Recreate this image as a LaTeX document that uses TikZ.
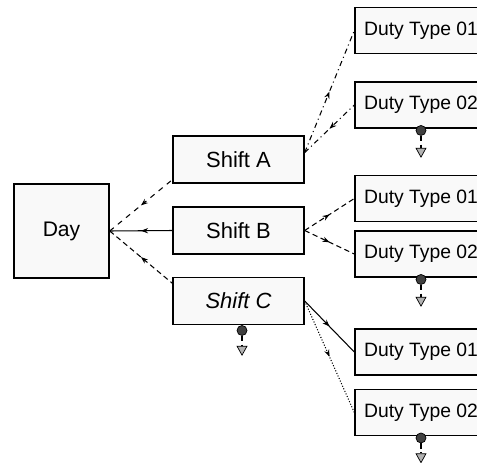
\documentclass[tikz,border=0pt]{standalone}
\usepackage{fontspec}
\setmainfont{Liberation Sans}
\usetikzlibrary{positioning,shapes.geometric,decorations.markings,arrows.meta}

\begin{document}
\begin{tikzpicture}[x=0.02cm, y=-0.02cm,
    box/.style={rectangle, draw, thick, fill=gray!5, font=\fontsize{11}{13}\selectfont},
    daybox/.style={box, minimum width=1.9cm, minimum height=1.88cm, font=\fontsize{12}{14}\selectfont},
    shiftbox/.style={box, minimum width=2.62cm, minimum height=0.94cm, font=\fontsize{12.5}{14}\selectfont},
    dutybox/.style={box, minimum width=2.64cm, minimum height=0.92cm},
    link/.style={line width=0.6pt},
    fwdtip/.style={postaction={decorate, decoration={markings, mark=at position 0.5 with {\arrow{Stealth[length=4pt, width=3pt]}}}}},
    backtip/.style={postaction={decorate, decoration={markings, mark=at position 0.5 with {\arrowreversed{Stealth[length=4pt, width=3pt]}}}}},
    indot/.style={circle, draw, fill=black!75, inner sep=0pt, minimum size=0.2cm},
    intri/.style={isosceles triangle, shape border rotate=270, isosceles triangle stretches, draw, fill=gray!60, inner sep=0pt, minimum width=0.2cm, minimum height=0.18cm},
    node distance=0.24cm
]
    \useasboundingbox (0,0) rectangle (477,463);
    \clip (0,0) rectangle (477,463);

    % day and shifts
    \node[daybox] (day) at (61.5,231) {Day};
    \node[shiftbox] (sA) at (238.5,159.5) {Shift A};
    \node[shiftbox] (sB) at (238.5,230.5) {Shift B};
    \node[shiftbox] (sC) at (238.5,301) {\itshape Shift C};

    % duty types (run off the right edge)
    \node[dutybox] (dA1) at (421,30.5) {Duty Type 01};
    \node[dutybox] (dA2) at (421,105) {Duty Type 02};
    \node[dutybox] (dB1) at (421,198.5) {Duty Type 01};
    \node[dutybox] (dB2) at (421,254) {Duty Type 02};
    \node[dutybox] (dC1) at (421,352) {Duty Type 01};
    \node[dutybox] (dC2) at (421,412.5) {Duty Type 02};

    % day <- shifts
    \draw[link, dashed, backtip] (day.east) -- (sA.197);
    \draw[link, backtip] (day.east) -- (sB.west);
    \draw[link, densely dashed, backtip] (day.east) -- (sC.165);

    % shifts -> duty types
    \draw[link, dash dot, fwdtip] (sA.6) -- (dA1.west);
    \draw[link, dash dot, backtip] (sA.6) -- (dA2.west);
    \draw[link, densely dashed, fwdtip] (sB.east) -- (dB1.west);
    \draw[link, densely dashed, fwdtip] (sB.east) -- (dB2.west);
    \draw[link, fwdtip] (sC.east) -- (dC1.west);
    \draw[link, densely dotted, fwdtip] (sC.east) -- (dC2.west);

    % end markers
    \node[indot] (a2dot) at ([yshift=-1pt]dA2.south) {};
    \node[intri, below=of a2dot] (a2tri) {};
    \draw[link, densely dashed] (a2dot) -- (a2tri);

    \node[indot] (b2dot) at ([yshift=-1pt]dB2.south) {};
    \node[intri, below=of b2dot] (b2tri) {};
    \draw[link, densely dashed] (b2dot) -- (b2tri);

    \node[indot] (cdot) at ([xshift=2pt, yshift=-3pt]sC.south) {};
    \node[intri, below=0.2cm of cdot] (ctri) {};
    \draw[link, densely dashed] (cdot) -- (ctri);

    \node[indot] (c2dot) at ([yshift=-1pt]dC2.south) {};
    \node[intri, below=0.2cm of c2dot] (c2tri) {};
    \draw[link, densely dashed] (c2dot) -- (c2tri);
\end{tikzpicture}
\end{document}
